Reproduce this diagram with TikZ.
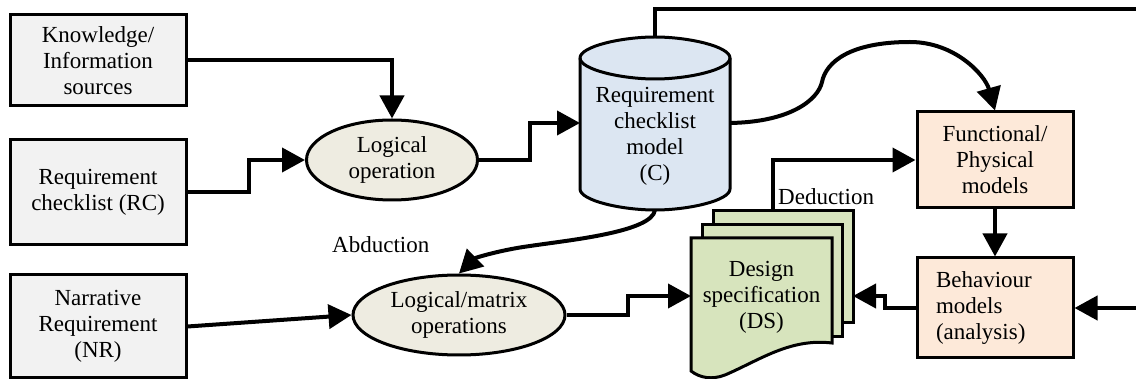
\documentclass[tikz,border=0pt]{standalone}
\usepackage{fontspec}
\setmainfont{Liberation Serif}
\usetikzlibrary{arrows.meta,shapes.geometric}
\definecolor{srcgray}{HTML}{F2F2F2}
\definecolor{opbeige}{HTML}{EEECE1}
\definecolor{dbblue}{HTML}{DCE6F2}
\definecolor{modelpeach}{HTML}{FDE9D9}
\definecolor{docgreen}{HTML}{D7E4BD}
\begin{document}
\begin{tikzpicture}[x=1pt,y=-1pt,
  every node/.style={font=\fontsize{23}{26}\selectfont, align=center, inner sep=0pt},
  srcbox/.style={draw, line width=3pt, fill=srcgray, minimum width=176pt},
  opell/.style={ellipse, draw, line width=3pt, fill=opbeige},
  modelbox/.style={draw, line width=3pt, fill=modelpeach, minimum width=156pt},
  shape line/.style={draw, line width=3pt},
  wire/.style={line width=4pt, line join=miter},
  conn/.style={wire, -{Triangle[length=23pt,width=24pt]}},
  tag/.style={fill=white, inner sep=1pt}]
\useasboundingbox (0,0) rectangle (1136,379);

% source boxes
\node[srcbox, minimum height=91pt]  (K)  at (98,60.5)  {Knowledge/\\Information\\sources};
\node[srcbox, minimum height=105pt] (RC) at (98,192.5) {Requirement\\checklist (RC)};
\node[srcbox, minimum height=103pt] (NR) at (98,326.5) {Narrative\\Requirement\\(NR)};

% operations
\node[opell, minimum width=171pt, minimum height=80pt] (LO) at (392,160) {Logical\\operation};
\node[opell, minimum width=212pt, minimum height=80pt] (LM) at (459,315) {Logical/matrix\\operations};

% checklist model (cylinder)
\path[shape line, fill=dbblue]
  (580,58) -- (580,189)
  .. controls (580,200.6) and (621.6,210) .. (655,210)
  .. controls (688.4,210) and (730,200.6) .. (730,189)
  -- (730,58)
  .. controls (730,46.4) and (688.4,37) .. (655,37)
  .. controls (621.6,37) and (580,46.4) .. (580,58) -- cycle;
\draw[line width=3pt] (580,58)
  .. controls (580,69.6) and (621.6,79) .. (655,79)
  .. controls (688.4,79) and (730,69.6) .. (730,58);
\node (C) at (655,136) {Requirement\\checklist\\model\\(C)};
\coordinate (cylW)   at (580,123);
\coordinate (cylE)   at (730,123);
\coordinate (cylTop) at (655,37);
\coordinate (cylBot) at (655,210);

% design specification (stacked documents)
\path[shape line, fill=docgreen] (713,211) rectangle (853,323);
\path[shape line, fill=docgreen] (702,225) rectangle (842,337);
\path[shape line, fill=docgreen]
  (691,238) -- (832,238) -- (832,343)
  .. controls (790,338) and (760,360) .. (725,375)
  .. controls (712,380) and (700,378) .. (691,371) -- cycle;
\node (DS) at (761.5,297) {Design\\specification\\(DS)};
\coordinate (dsW)   at (691,296);
\coordinate (dsE)   at (853,296);
\coordinate (dsTop) at (773,211);

% models
\node[modelbox, minimum height=96pt]  (F) at (995,160) {Functional/\\Physical\\models};
\node[modelbox, minimum height=100pt, text width=118pt, align=left] (B) at (995,308)
  {Behaviour\\models\\(analysis)};

% loop ends running off the right side
\coordinate (rimTop) at (1142,9);
\coordinate (rimBot) at (1142,308);

% connectors
\draw[conn] (K.east) -| (LO.north);
\draw[conn] (RC.east) -- ++(61,0) |- (LO.west);
\draw[conn] (LO.east) -- (530,160) |- (cylW);
\draw[wire] (cylTop) |- (rimTop);
\draw[conn] (rimBot) -- (B.east);
\draw[conn] (cylE) .. controls (790,122) and (818,100) .. (822,82)
  .. controls (826,62) and (850,42) .. (910,42)
  .. controls (955,42) and (985,75) .. (F.north);
\draw[conn] (cylBot) .. controls (652,232) and (570,240) .. (530,246)
  .. controls (500,250) and (475,258) .. (LM.north);
\draw[conn] (NR.east) -- (LM.west);
\draw[conn] (LM.east) -- (628,315) |- (dsW);
\draw[conn] (B.west) -- (885,308) |- (dsE);
\draw[conn] (dsTop) |- (F.west);
\draw[conn] (F.south) -- (B.north);

% labels
\node[tag, anchor=west] (ded) at (777,197) {Deduction};
\node[anchor=west] (abd) at (332,245) {Abduction};
\end{tikzpicture}
\end{document}
